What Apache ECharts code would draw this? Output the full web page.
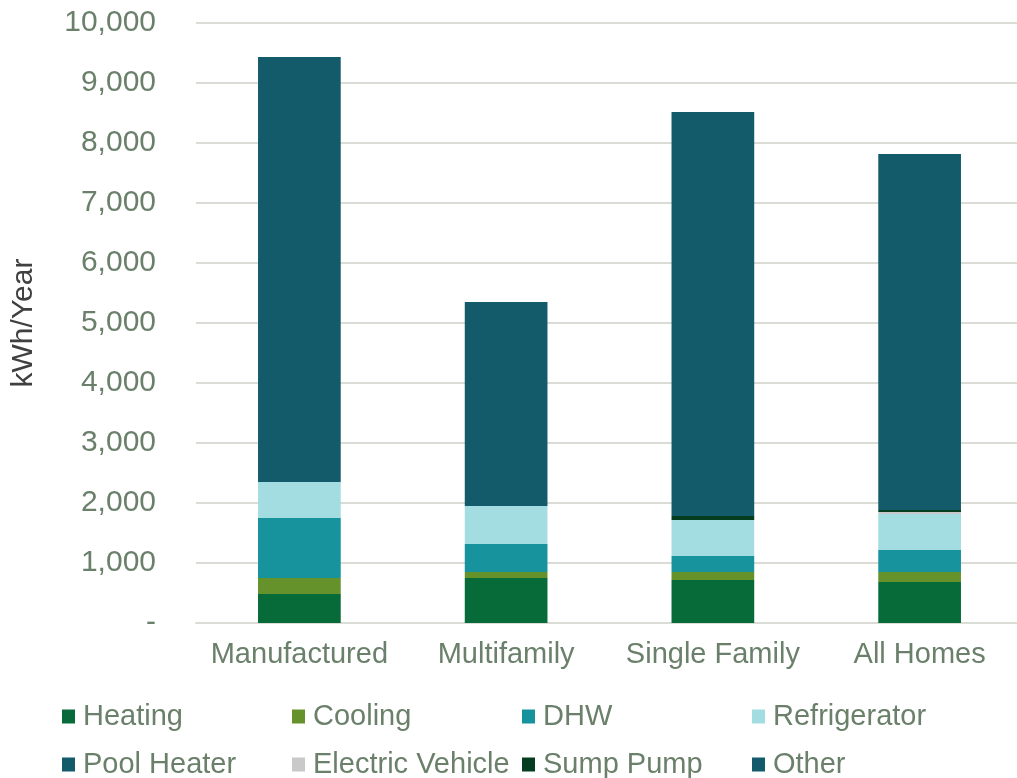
<!DOCTYPE html>
<html>
<head>
<meta charset="utf-8">
<script src="https://cdn.jsdelivr.net/npm/echarts@6/dist/echarts.min.js"></script>
<style>
  html, body { margin: 0; padding: 0; background: #fff; }
  #chart { width: 1017px; height: 778px; }
</style>
</head>
<body>
<div id="chart"></div>
<script>
// home types along the x axis
var homeTypes = ['Manufactured', 'Multifamily', 'Single Family', 'All Homes'];

// end uses, kWh/Year per home type
var heating = [483, 750, 717, 683];
var cooling = [267, 100, 133, 167];
var dhw = [1000, 467, 267, 367];
var refrigerator = [600, 633, 600, 600];
var poolHeater = [0, 0, 0, 0];
var electricVehicle = [0, 0, 0, 33];
var sumpPump = [0, 0, 67, 33];
var other = [7083, 3400, 6733, 5934];

var seriesNames = ['Heating', 'Cooling', 'DHW', 'Refrigerator', 'Pool Heater', 'Electric Vehicle', 'Sump Pump', 'Other'];
var seriesData = [heating, cooling, dhw, refrigerator, poolHeater, electricVehicle, sumpPump, other];
var colors = ['#066b38', '#65922b', '#16939c', '#a4dde1', '#135b6a', '#c9c9c9', '#043d20', '#135b6a'];

var yMin = 0, yMax = 10000, yStep = 1000;

var textColor = '#6b806b';
var font = 'Liberation Sans, Arial, sans-serif';

var chart = echarts.init(document.getElementById('chart'));

// one legend block per item so they sit on a 4 x 2 grid
var legends = seriesNames.map(function (name, i) {
  return {
    data: [name],
    left: 57 + 230 * (i % 4),
    top: i < 4 ? 697 : 745,
    icon: 'rect',
    itemWidth: 13,
    itemHeight: 14,
    selectedMode: false,
    textStyle: {
      color: textColor,
      fontSize: 29,
      fontFamily: font,
      padding: [0, 0, 0, 3]
    }
  };
});

var option = {
  animation: false,
  color: colors,
  legend: legends,
  grid: {
    left: 196,
    right: -6,
    top: 23,
    bottom: 155,
    outerBoundsMode: 'none'
  },
  xAxis: {
    type: 'category',
    data: homeTypes,
    axisLine: { lineStyle: { color: '#d9ddd6', width: 2 } },
    axisTick: { show: false },
    axisLabel: {
      interval: 0,
      color: textColor,
      fontSize: 29,
      fontFamily: font,
      margin: 17
    }
  },
  yAxis: {
    type: 'value',
    min: yMin,
    max: yMax,
    interval: yStep,
    name: 'kWh/Year',
    nameLocation: 'middle',
    nameRotate: 90,
    nameGap: 157,
    nameTextStyle: { color: '#404040', fontSize: 30, fontFamily: font },
    axisLine: { show: false },
    axisTick: { show: false },
    splitLine: { lineStyle: { color: '#d9ddd6', width: 2 } },
    axisLabel: {
      color: textColor,
      fontSize: 30,
      fontFamily: font,
      margin: 40,
      formatter: function (v) {
        return v === 0 ? '-' : v.toLocaleString('en-US');
      }
    }
  },
  series: seriesNames.map(function (name, i) {
    return {
      name: name,
      type: 'bar',
      stack: 'total',
      barWidth: '40%',
      data: seriesData[i],
      itemStyle: { color: colors[i] }
    };
  })
};

chart.setOption(option);
</script>
</body>
</html>
